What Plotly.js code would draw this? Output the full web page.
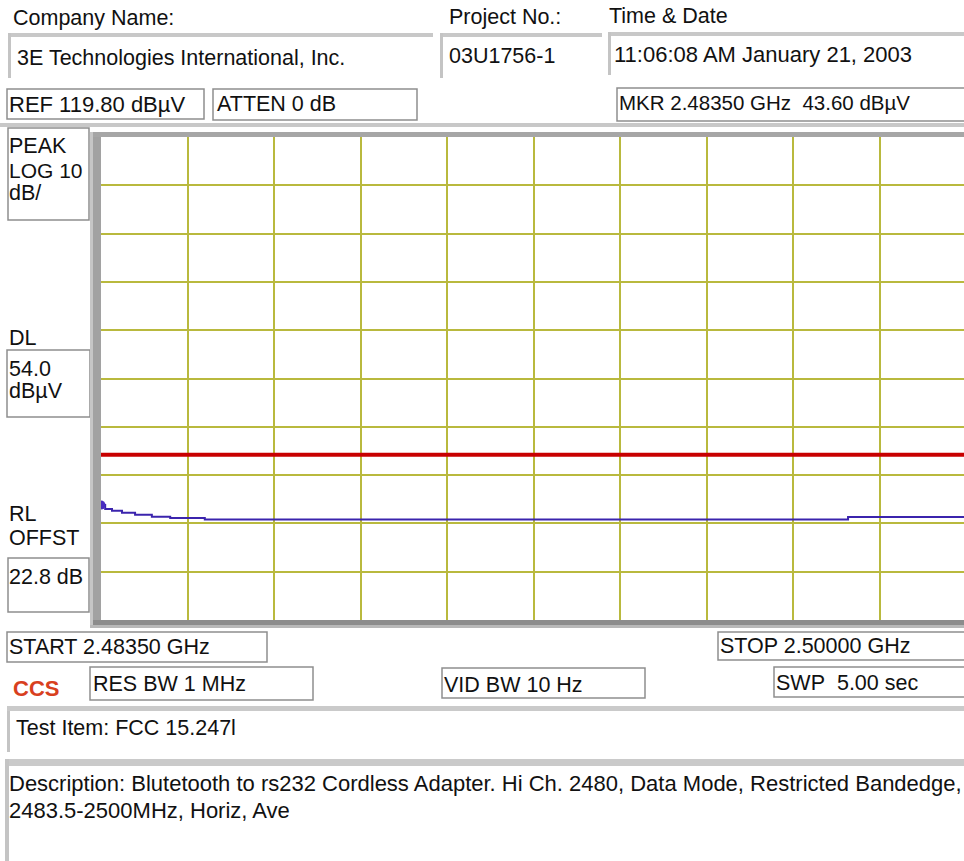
<!DOCTYPE html>
<html><head><meta charset="utf-8">
<script src="https://cdn.plot.ly/plotly-3.0.1.min.js"></script>
<style>html,body{margin:0;padding:0;overflow:hidden;background:#fff;} #chart{width:966px;height:861px;}</style>
</head><body><div id="chart"></div>
<script>
// ---- data ----
const freqMHz   = [2483.50, 2483.58, 2483.71, 2483.90, 2484.15, 2484.47, 2484.82, 2485.48, 2497.75, 2500.00];
const levelDbuV = [43.6, 42.8, 42.4, 42.0, 41.6, 41.2, 40.9, 40.6, 41.1, 41.1];
const startMHz = 2483.5, stopMHz = 2500.0;
const refLevel = 119.8, dbPerDiv = 10, numDiv = 10;
const displayLineDbuV = [54.0, 54.0];
const displayLineMHz = [startMHz, stopMHz];
const markerMHz = [2483.5], markerDbuV = [43.6];

const headerLabels = ["Company Name:", "Project No.:", "Time & Date"];
const headerValues = ["3E Technologies International, Inc.", "03U1756-1", "11:06:08 AM January 21, 2003"];
const settingLabels = ["REF 119.80 dBµV", "ATTEN 0 dB", "MKR 2.48350 GHz\u00a0\u00a043.60 dBµV"];
const sideLabels = ["PEAK", "LOG 10", "dB/", "DL", "54.0", "dBµV", "RL", "OFFST", "22.8 dB"];
const bottomLabels = ["START 2.48350 GHz", "STOP 2.50000 GHz", "RES BW 1 MHz", "VID BW 10 Hz", "SWP\u00a0\u00a05.00 sec"];
const testItem = "Test Item: FCC 15.247l";
const descLines = ["Description: Blutetooth to rs232 Cordless Adapter. Hi Ch. 2480, Data Mode, Restricted Bandedge,",
                   "2483.5-2500MHz, Horiz, Ave"];

// ---- page geometry (pixels) ----
const FW = 966, FH = 861, L = 101, T = 137, W = 865, H = 483;
const px = x => (x - L) / W;
const py = y => (T + H - y) / H;

const FONT = "Liberation Sans, Arial, sans-serif";
const annotations = [];
function txt(s, x, y, opt) {
  opt = opt || {};
  annotations.push({
    text: s, x: px(x), y: py(y), xref: 'paper', yref: 'paper',
    xanchor: 'left', yanchor: 'middle', showarrow: false,
    font: {family: opt.family || FONT, size: opt.size || 21.5, color: opt.color || '#111', weight: opt.weight || 'normal'},
    borderpad: 0
  });
}
const shapes = [];
function box(x0, y0, x1, y1) {
  shapes.push({type: 'rect', xref: 'paper', yref: 'paper', x0: px(x0), x1: px(x1), y0: py(y1), y1: py(y0),
    line: {color: '#8e8e8e', width: 1.5}, fillcolor: 'rgba(0,0,0,0)'});
}
function bar(x0, y0, x1, y1, color) {
  shapes.push({type: 'rect', xref: 'paper', yref: 'paper', x0: px(x0), x1: px(x1), y0: py(y1), y1: py(y0),
    line: {width: 0}, fillcolor: color});
}
function sunken(x0, y0, x1, y1) {
  bar(x0, y0, x1, y0 + 4, '#c8c8c8');
  bar(x0, y0, x0 + 3, y1, '#c4c4c4');
}

// header
txt(headerLabels[0], 12, 18);
txt(headerLabels[1], 448, 17);
txt(headerLabels[2], 608, 16);
sunken(8, 33, 433, 78);
sunken(440, 33, 602, 78);
sunken(608, 32, 966, 75);
txt(headerValues[0], 16, 58);
txt(headerValues[1], 448, 56);
txt(headerValues[2], 613, 55, {size: 22});

box(7, 89, 204, 119); txt(settingLabels[0], 8, 104, {size: 22});
box(213, 89, 417, 120); txt(settingLabels[1], 216, 104);
box(617, 88, 968, 121); txt(settingLabels[2], 618, 103, {size: 20.5});

bar(0, 123, 966, 127, '#c8c8c8');

// left panel
box(8, 128, 89, 220);
txt(sideLabels[0], 8, 146); txt(sideLabels[1], 8, 170, {size: 21}); txt(sideLabels[2], 8, 193);
txt(sideLabels[3], 8, 338);
box(7, 350, 90, 417);
txt(sideLabels[4], 8, 369); txt(sideLabels[5], 8, 391);
txt(sideLabels[6], 8, 514); txt(sideLabels[7], 8, 538);
box(8, 558, 89, 612);
txt(sideLabels[8], 8, 577);

// graticule frame
bar(90, 132, 93, 628, '#c6c6c6');
bar(93, 132, 101, 628, '#a2a2a2');
bar(93, 132, 966, 137, '#a6a6a6');
bar(93, 620, 966, 625, '#8c8c8c');
bar(90, 625, 966, 628, '#b8b8b8');

// bottom settings
box(7, 632, 267, 662); txt(bottomLabels[0], 8, 647);
box(718, 632, 968, 660); txt(bottomLabels[1], 719, 646);
txt("CCS", 12, 688, {color: '#d8401e', weight: 'bold', size: 22});
box(90, 667, 313, 700); txt(bottomLabels[2], 92, 684);
box(442, 668, 645, 698); txt(bottomLabels[3], 443, 685);
box(774, 667, 968, 697); txt(bottomLabels[4], 775, 683);

sunken(7, 706, 966, 752);
bar(7, 706, 966, 711, '#cacaca');
txt(testItem, 15, 728);
bar(5, 759, 966, 766, '#cacaca');
bar(5, 759, 9, 861, '#c4c4c4');
txt(descLines[0], 8, 783, {size: 22});
txt(descLines[1], 8, 810, {size: 22});

const traces = [
  {x: displayLineMHz, y: displayLineDbuV, mode: 'lines', line: {color: '#c80000', width: 4}, hoverinfo: 'skip'},
  {x: freqMHz, y: levelDbuV, mode: 'lines', line: {color: '#3b24ad', width: 2, shape: 'hv'}, hoverinfo: 'skip'},
  {x: markerMHz, y: markerDbuV, mode: 'markers', marker: {color: '#4a2cc0', size: 9, symbol: 'circle'}, hoverinfo: 'skip', cliponaxis: false}
];

const span = stopMHz - startMHz;
const layout = {
  width: FW, height: FH,
  margin: {l: L, r: FW - L - W, t: T, b: FH - T - H, pad: 0},
  paper_bgcolor: '#ffffff', plot_bgcolor: '#ffffff',
  showlegend: false,
  xaxis: {range: [startMHz, stopMHz], tick0: startMHz, dtick: span / numDiv, showticklabels: false, ticks: '',
          showgrid: true, gridcolor: '#b9b93e', gridwidth: 2, zeroline: false, showline: false, fixedrange: true},
  yaxis: {range: [refLevel - dbPerDiv * numDiv, refLevel], tick0: refLevel, dtick: dbPerDiv, showticklabels: false, ticks: '',
          showgrid: true, gridcolor: '#b9b93e', gridwidth: 2, zeroline: false, showline: false, fixedrange: true},
  shapes: shapes,
  annotations: annotations,
  font: {family: FONT}
};
Plotly.newPlot('chart', traces, layout, {displayModeBar: false, staticPlot: true});
</script>
</body></html>
